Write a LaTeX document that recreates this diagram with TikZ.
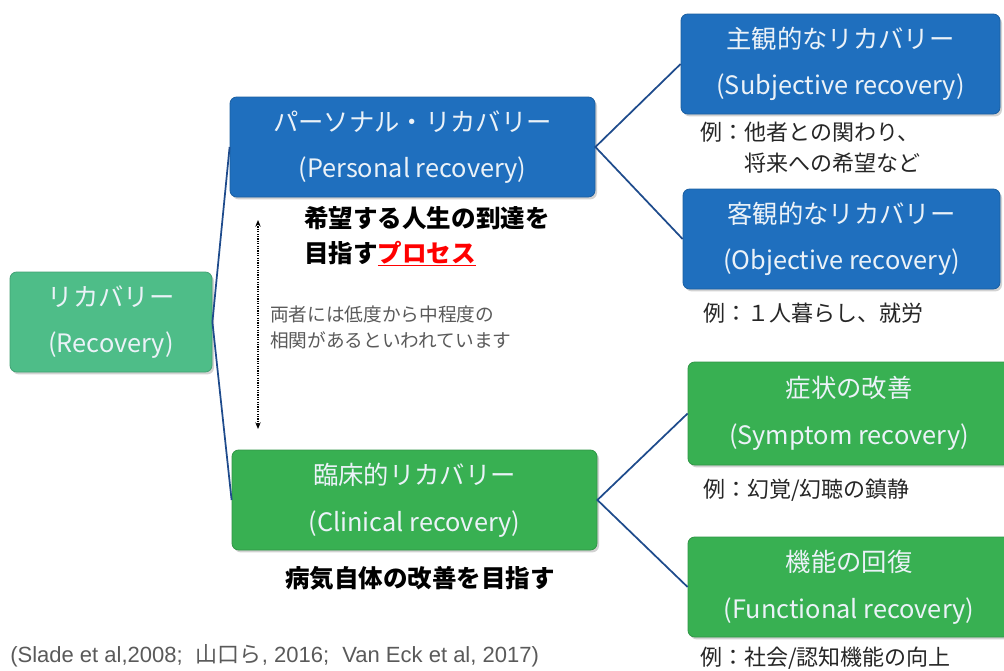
\documentclass[tikz,border=0pt]{standalone}
\usepackage{fontspec}
\setmainfont{Noto Sans CJK JP}
\newfontfamily\citefont{Liberation Sans}
\usetikzlibrary{shadows,arrows.meta}
\definecolor{bluebox}{RGB}{31,111,190}
\definecolor{greenbox}{RGB}{56,176,82}
\definecolor{tealbox}{RGB}{78,189,136}
\definecolor{connblue}{RGB}{30,75,140}
\definecolor{graytext}{RGB}{90,90,90}
\definecolor{boxtext}{RGB}{235,242,248}
\tikzset{
  box/.style={rectangle, rounded corners=5pt, draw=#1!85!black, line width=0.6pt, fill=#1,
     text=boxtext, align=center, inner sep=0pt,
     font=\fontsize{19}{35}\selectfont,
     drop shadow={shadow xshift=1.5pt, shadow yshift=-1.8pt, opacity=0.35}},
  conn/.style={draw=connblue, line width=1.3pt},
  boldlabel/.style={font=\fontsize{18.4}{26}\selectfont\bfseries, align=left, inner sep=0pt},
  example/.style={font=\fontsize{16.5}{23}\selectfont, align=left, inner sep=0pt, text=black!85},
}
\begin{document}
\begin{tikzpicture}[x=0.75pt, y=-0.75pt]
\useasboundingbox (0,0) rectangle (1004,671);
\fill[white] (0,0) rectangle (1004,671);

% main boxes
\node[box=tealbox, minimum width=202*0.75pt, minimum height=100*0.75pt] (rec) at (111,322) {リカバリー\\(Recovery)};
\node[box=bluebox, minimum width=365*0.75pt, minimum height=100*0.75pt] (per) at (412.5,147) {パーソナル・リカバリー\\(Personal recovery)};
\node[box=greenbox, minimum width=365*0.75pt, minimum height=100*0.75pt] (cli) at (414.5,500) {臨床的リカバリー\\(Clinical recovery)};
\node[box=bluebox, minimum width=319*0.75pt, minimum height=100*0.75pt] (sub) at (840.5,64) {主観的なリカバリー\\(Subjective recovery)};
\node[box=bluebox, minimum width=317*0.75pt, minimum height=100*0.75pt] (obj) at (841.5,239) {客観的なリカバリー\\(Objective recovery)};
\node[box=greenbox, minimum width=322*0.75pt, minimum height=103*0.75pt] (sym) at (849,413.5) {症状の改善\\(Symptom recovery)};
\node[box=greenbox, minimum width=322*0.75pt, minimum height=100*0.75pt] (fun) at (849,587) {機能の回復\\(Functional recovery)};

% connectors
\draw[conn] (per.west) -- (rec.east) -- (cli.west);
\draw[conn] (sub.west) -- (per.east) -- (obj.west);
\draw[conn] (sym.west) -- (cli.east) -- (fun.west);

% dotted double arrow
\coordinate (atop) at (258,220);
\coordinate (abot) at (258,429);
\draw[densely dotted, line width=0.8pt, {Stealth[length=5pt,width=4pt]}-{Stealth[length=5pt,width=4pt]}] (atop) -- (abot);

% texts
\node[boldlabel, anchor=north west] (goal) at (304,206) {希望する人生の到達を\\目指す\textcolor{red}{\underline{プロセス}}};
\node[font=\fontsize{14}{19}\selectfont, text=graytext, align=left, inner sep=0pt, anchor=north west] (corr) at (270,306) {両者には低度から中程度の\\相関があるといわれています};
\node[boldlabel, anchor=center] (cligoal) at (420,578) {病気自体の改善を目指す};

\node[example, anchor=north west] (ex1) at (700,122) {例：他者との関わり、\\\phantom{例：}将来への希望など};
\node[example, anchor=west] (ex2) at (703,313) {例：１人暮らし、就労};
\node[example, anchor=west] (ex3) at (703,490) {例：幻覚/幻聴の鎮静};
\node[example, anchor=west] (ex4) at (700,658) {例：社会/認知機能の向上};

\node[font=\fontsize{16.5}{19}\selectfont, text=graytext, anchor=west, inner sep=0pt] (cite) at (10,656) {{\citefont(Slade et al,2008;}\hspace{0.6em}山口ら{\citefont, 2016;}\hspace{0.6em}{\citefont Van Eck et al, 2017)}};
\end{tikzpicture}
\end{document}
